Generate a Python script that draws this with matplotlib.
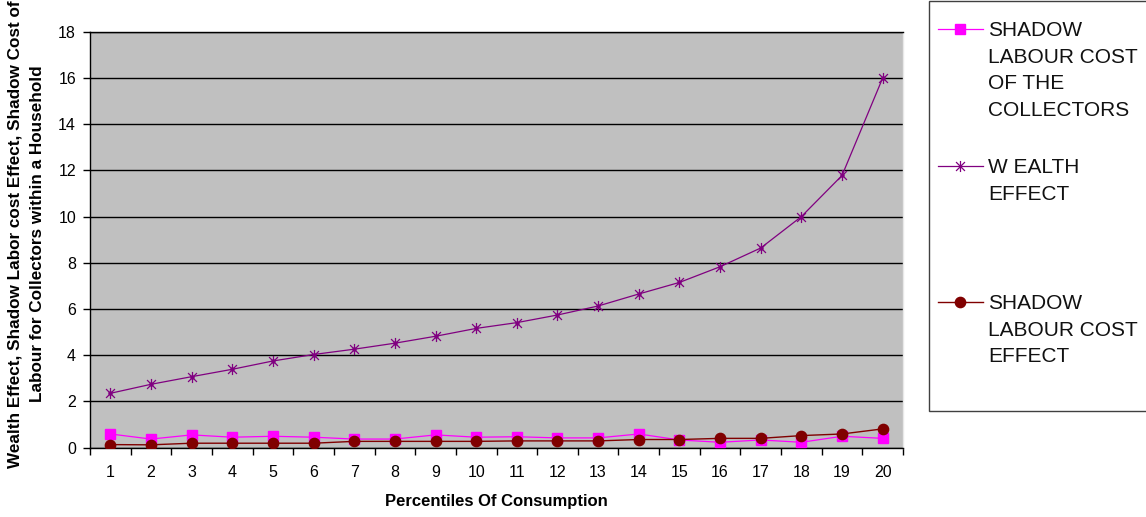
import matplotlib
matplotlib.use("Agg")
import matplotlib.pyplot as plt
from matplotlib.lines import Line2D
from matplotlib.patches import Rectangle
from matplotlib.path import Path
from matplotlib.ticker import FixedLocator, NullFormatter

# ---- data -------------------------------------------------------------
percentiles = list(range(1, 21))
shadow_cost_collectors = [0.59, 0.37, 0.55, 0.45, 0.49, 0.45, 0.37, 0.37, 0.55, 0.45,
                          0.47, 0.42, 0.42, 0.59, 0.33, 0.23, 0.33, 0.23, 0.49, 0.40]
wealth_effect = [2.35, 2.74, 3.07, 3.39, 3.75, 4.03, 4.26, 4.52, 4.82, 5.16,
                 5.41, 5.74, 6.13, 6.65, 7.15, 7.83, 8.64, 10.00, 11.78, 16.00]
shadow_cost_effect = [0.13, 0.12, 0.19, 0.19, 0.19, 0.19, 0.27, 0.27, 0.27, 0.27,
                      0.29, 0.29, 0.29, 0.35, 0.35, 0.40, 0.40, 0.52, 0.59, 0.81]
y_ticks = [0, 2, 4, 6, 8, 10, 12, 14, 16, 18]

series_labels = ["SHADOW\nLABOUR COST\nOF THE\nCOLLECTORS",
                 "W EALTH\nEFFECT",
                 "SHADOW\nLABOUR COST\nEFFECT"]
x_title = "Percentiles Of Consumption"
y_title = ("Wealth Effect, Shadow Labor cost Effect, Shadow Cost of\n"
           "Labour for Collectors within a Household")

# ---- styling ----------------------------------------------------------
plt.rcParams["font.family"] = ["Liberation Sans", "DejaVu Sans"]

W, H = 1146, 517
fig = plt.figure(figsize=(W / 100, H / 100), dpi=100)
fig.patch.set_facecolor("white")

ax_left, ax_right, ax_top, ax_bottom = 90, 903, 31.8, 447.6
ax = fig.add_axes([ax_left / W, 1 - ax_bottom / H,
                   (ax_right - ax_left) / W, (ax_bottom - ax_top) / H])
ax.set_facecolor("#C0C0C0")

# asterisk marker: an "x" crossed by a vertical stroke
star = Path([(-1, -1), (1, 1), (-1, 1), (1, -1), (0, -1.25), (0, 1.25)],
            [Path.MOVETO, Path.LINETO, Path.MOVETO, Path.LINETO,
             Path.MOVETO, Path.LINETO])

styles = [
    dict(color="#FF00FF", marker="s", markersize=7.2, markerfacecolor="#FF00FF",
         markeredgecolor="#FF00FF", linewidth=0.9),
    dict(color="#800080", marker=star, markersize=8.0, markeredgewidth=0.9,
         markeredgecolor="#800080", linewidth=0.9),
    dict(color="#800000", marker="o", markersize=7.4, markerfacecolor="#800000",
         markeredgecolor="#800000", linewidth=1.0),
]

ax.plot(percentiles, shadow_cost_collectors, zorder=3, **styles[0])
ax.plot(percentiles, wealth_effect, zorder=3, **styles[1])
ax.plot(percentiles, wealth_effect, linestyle="none", marker="o", markersize=2.2,
        color="#800080", zorder=4)
ax.plot(percentiles, shadow_cost_effect, zorder=4, **styles[2])

ax.set_xlim(0.5, 20.5)
ax.set_ylim(0, 18)
ax.set_yticks(y_ticks)
ax.set_xticks(percentiles)
ax.xaxis.set_minor_locator(FixedLocator([p + 0.5 for p in [0] + percentiles]))
ax.xaxis.set_minor_formatter(NullFormatter())
ax.grid(axis="y", color="black", linewidth=1.0, zorder=1)
ax.set_axisbelow(True)

ax.tick_params(axis="x", which="major", length=0, pad=12.5, labelsize=11.5)
ax.tick_params(axis="x", which="minor", length=5, width=1.0, direction="out")
ax.tick_params(axis="y", which="major", length=5, width=1.0, direction="out",
               pad=5, labelsize=11.5)

for side in ("left", "bottom", "top"):
    ax.spines[side].set_color("black")
    ax.spines[side].set_linewidth(1.0)
ax.spines["right"].set_color("#E8E8E8")
ax.spines["right"].set_linewidth(1.0)

ax.set_xlabel(x_title, fontsize=12, fontweight="bold")
ax.xaxis.set_label_coords(0.5, -(494 - ax_bottom) / (ax_bottom - ax_top))
ax.xaxis.label.set_verticalalignment("top")

fig.text(26 / W, 1 - 234 / H, y_title, rotation=90, ha="center", va="center",
         multialignment="center", fontsize=12.3, fontweight="bold",
         linespacing=1.6)

# ---- legend box -------------------------------------------------------
fig.add_artist(Rectangle((929 / W, 1 - 411 / H), 240 / W, 410 / H,
                         transform=fig.transFigure, facecolor="white",
                         edgecolor="#404040", linewidth=1.0, zorder=0))
entry_y = [29, 166, 302]
line_step = 26.5
cap_half = 7.4
for sty, label, y0 in zip(styles, series_labels, entry_y):
    yf = 1 - y0 / H
    handle = Line2D([938 / W, 960 / W, 983 / W], [yf, yf, yf],
                    transform=fig.transFigure, markevery=[1], **sty)
    fig.add_artist(handle)
    for i, line in enumerate(label.split("\n")):
        fig.text(988 / W, 1 - (y0 + cap_half + i * line_step) / H, line,
                 ha="left", va="baseline", fontsize=15, color="#111111")

fig.savefig("out.png", dpi=100)
